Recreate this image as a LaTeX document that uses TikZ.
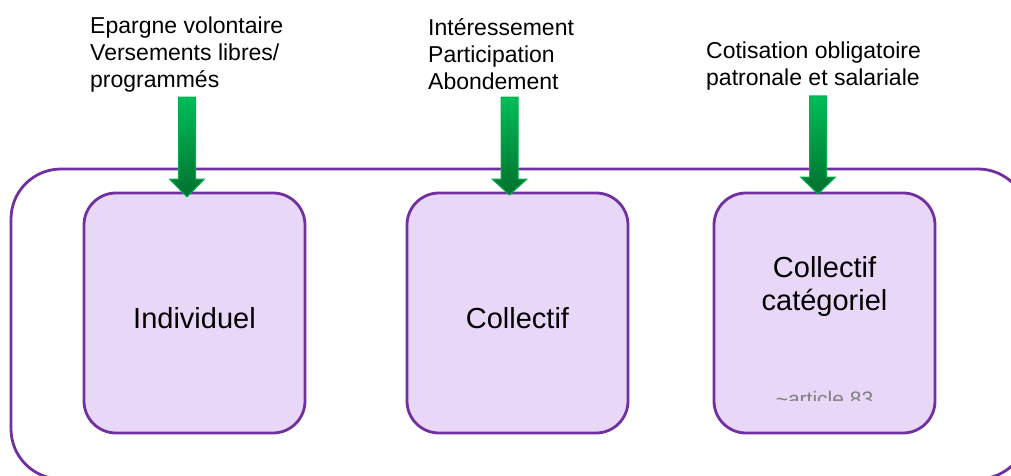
\documentclass[tikz,border=0pt]{standalone}
\usepackage{fontspec}
\setmainfont{Liberation Sans}
\definecolor{purp}{RGB}{112,48,160}
\definecolor{lav}{RGB}{233,215,248}
\definecolor{gtop}{RGB}{0,190,88}
\definecolor{gbot}{RGB}{0,112,46}
\definecolor{gline}{RGB}{0,176,80}
\definecolor{graytxt}{RGB}{128,128,128}
\tikzset{
  inbox/.style={draw=purp, line width=2.8pt, fill=lav, rounded corners=32pt, minimum width=221pt, minimum height=240pt, inner sep=0pt},
  toptxt/.style={font=\fontsize{23}{27}\selectfont, align=left, anchor=north west, inner sep=0pt},
  boxtxt/.style={font=\fontsize{29}{33}\selectfont, align=center, inner sep=0pt},
  garrow/.style={top color=gtop, bottom color=gbot, draw=gline, line width=1pt}
}
\newcommand{\greenarrow}[4]{% x, ytop, yheadstart, ytip
  \path[garrow] (#1-8.5,#2) -- (#1+8.5,#2) -- (#1+8.5,#3) -- (#1+17.5,#3) -- (#1,#4) -- (#1-17.5,#3) -- (#1-8.5,#3) -- cycle;
}
\begin{document}
\begin{tikzpicture}[x=1pt,y=1pt]
\useasboundingbox (0,0) rectangle (1011,475);
\clip (0,0) rectangle (1011,475);
% outer frame
\draw[purp, line width=2.8pt, rounded corners=50pt] (11,-4) rectangle (1028,306);
% inner boxes
\node[inbox] (b1) at (194.5,162) {};
\node[inbox] (b2) at (517.5,162) {};
\node[inbox] (b3) at (824.5,162) {};
% labels in boxes
\node[boxtxt] (l1) at (194.5,157) {Individuel};
\node[boxtxt] (l2) at (517.5,157) {Collectif};
\node[boxtxt] (l3) at (824.5,189) {Collectif\\cat\'egoriel};
\begin{scope}
  \clip (700,75) rectangle (950,110);
  \node[font=\fontsize{21}{25}\selectfont, text=graytxt, anchor=base, inner sep=0pt] (l4) at (824.5,69) {\textasciitilde article 83};
\end{scope}
% top texts
\node[toptxt] (t1) at (90,458) {Epargne volontaire\\Versements libres/\\programm\'es};
\node[toptxt] (t2) at (428,457) {Int\'eressement\\Participation\\Abondement};
\node[toptxt] (t3) at (706,433) {Cotisation obligatoire\\patronale et salariale};
% green arrows
\greenarrow{187}{378}{296}{278}
\greenarrow{509.5}{378}{296}{280}
\greenarrow{818}{379}{298}{281}
\end{tikzpicture}
\end{document}
